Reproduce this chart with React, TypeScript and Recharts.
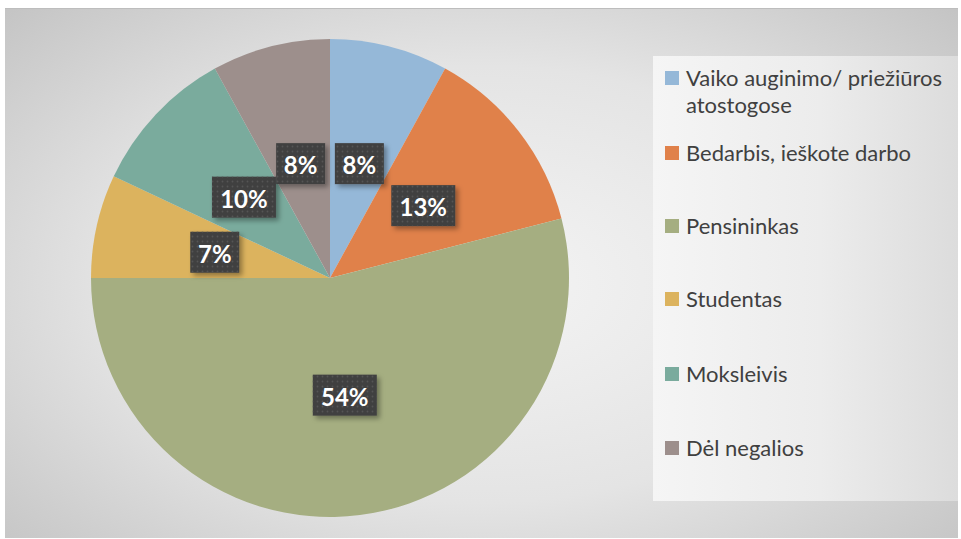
import { PieChart, Pie, Cell } from "recharts";

const categories = [
  "Vaiko auginimo/ priežiūros atostogose",
  "Bedarbis, ieškote darbo",
  "Pensininkas",
  "Studentas",
  "Moksleivis",
  "Dėl negalios",
];
const shares = [8, 13, 54, 7, 10, 8];
const colors = ["#95b8d8", "#e0814a", "#a5ae81", "#dcb35e", "#7aab9d", "#9d8f8c"];

const data = categories.map((name, i) => ({ name, value: shares[i] }));

const RAD = Math.PI / 180;
const FONT = "Lato, 'Open Sans', sans-serif";

const renderLabel = (props: any) => {
  const { cx, cy, midAngle, outerRadius, value } = props;
  const r = outerRadius * 0.494;
  const x = cx + r * Math.cos(-midAngle * RAD);
  const y = cy + r * Math.sin(-midAngle * RAD);
  const txt = `${value}%`;
  const w = txt.length === 2 ? 49 : 64;
  const h = 41;
  return (
    <g>
      <rect
        x={x - w / 2}
        y={y - h / 2}
        width={w}
        height={h}
        fill="#404040"
        filter="url(#lblShadow)"
      />
      <rect x={x - w / 2} y={y - h / 2} width={w} height={h} fill="url(#dots)" />
      <text
        x={x}
        y={y + 1}
        textAnchor="middle"
        dominantBaseline="central"
        fill="#ffffff"
        fontFamily={FONT}
        fontWeight={700}
        fontSize={24}
      >
        {txt}
      </text>
    </g>
  );
};

const legendTops = [8, 83, 156, 229, 304, 378];

function LegendBox() {
  return (
    <div
      style={{
        position: "absolute",
        left: 648,
        top: 47,
        width: 305,
        height: 445,
        background: "linear-gradient(to right, #f5f5f5 0%, #ececec 55%, #dcdcdc 100%)",
        fontFamily: FONT,
        fontSize: 22,
        color: "#404040",
      }}
    >
      {categories.map((c, i) => (
        <div
          key={c}
          style={{ position: "absolute", left: 12, top: legendTops[i], width: 290, lineHeight: "27px" }}
        >
          <span
            style={{
              position: "absolute",
              left: 0,
              top: 7,
              width: 14,
              height: 14,
              background: colors[i],
            }}
          />
          <div style={{ marginLeft: 21 }}>{c}</div>
        </div>
      ))}
    </div>
  );
}

export default function App() {
  return (
    <div style={{ position: "absolute", left: 0, top: 0, width: 961, height: 539, background: "#ffffff" }}>
      <div
        style={{
          position: "absolute",
          left: 5,
          top: 8,
          width: 953,
          height: 529,
          background:
            "radial-gradient(ellipse 70% 75% at 50% 52%, #f4f4f4 0%, #e4e4e4 55%, #c4c4c4 100%)",
          borderTop: "1px solid #bdbdbd",
        }}
      >
        <PieChart width={953} height={529} margin={{ top: 0, right: 0, bottom: 0, left: 0 }}>
          <defs>
            <pattern id="dots" width="5" height="5" patternUnits="userSpaceOnUse">
              <circle cx="2.5" cy="2.5" r="0.9" fill="#555555" />
            </pattern>
            <filter id="lblShadow" x="-30%" y="-30%" width="170%" height="170%">
              <feDropShadow dx="3" dy="3" stdDeviation="2.5" floodColor="#000" floodOpacity="0.35" />
            </filter>
          </defs>
          <Pie
            data={data}
            dataKey="value"
            nameKey="name"
            cx={325}
            cy={269}
            outerRadius={239}
            startAngle={90}
            endAngle={-270}
            stroke="none"
            label={renderLabel}
            labelLine={false}
            isAnimationActive={false}
          >
            {data.map((d, i) => (
              <Cell key={d.name} fill={colors[i]} />
            ))}
          </Pie>
        </PieChart>
        <LegendBox />
      </div>
    </div>
  );
}
